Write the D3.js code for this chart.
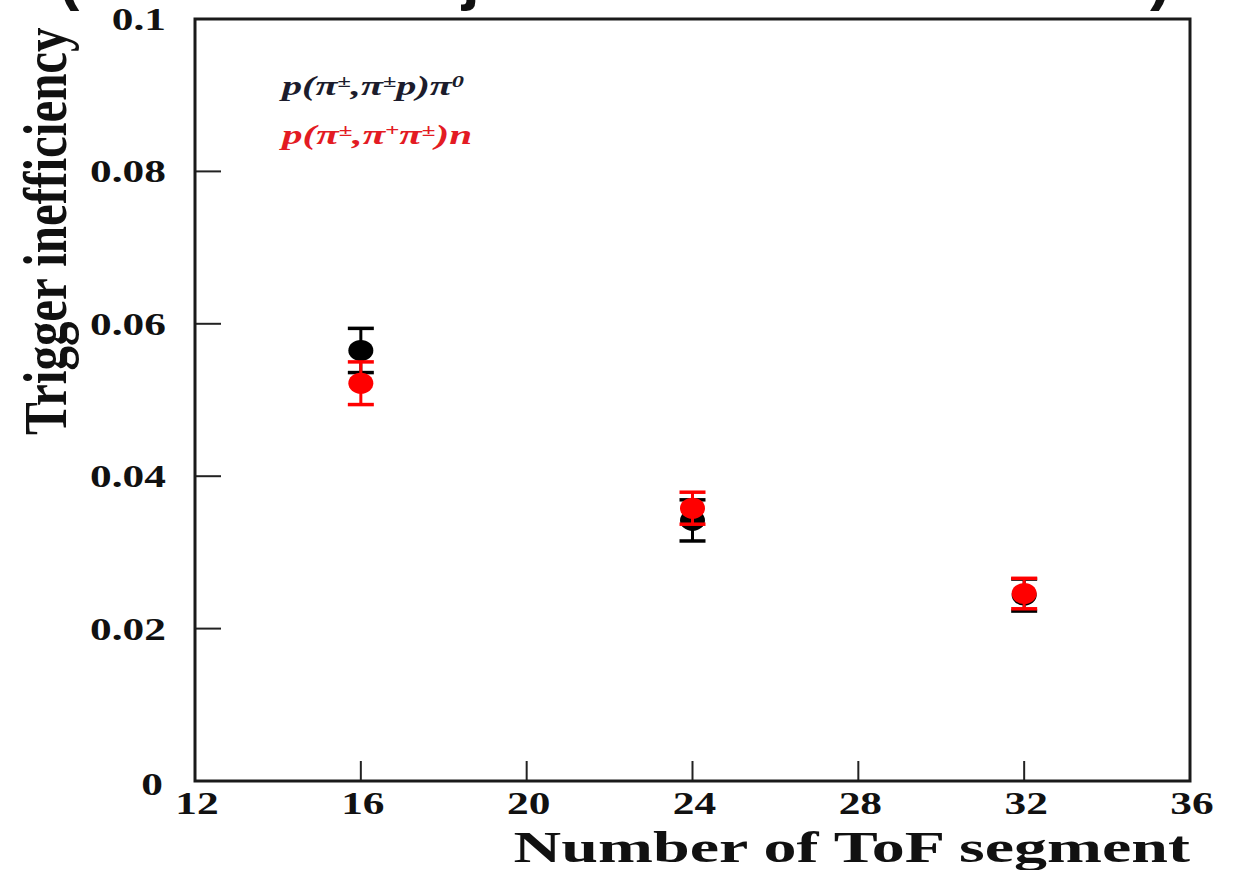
<!DOCTYPE html>
<html>
<head>
<meta charset="utf-8">
<script src="https://cdn.jsdelivr.net/npm/d3@7"></script>
<style>
  html, body { margin: 0; padding: 0; background: #fff; }
  svg { display: block; }
  text { font-family: "Liberation Serif", "Times New Roman", serif; }
</style>
</head>
<body>
<svg id="chart" width="1239" height="870"></svg>
<script>
// ---- data ----
const segments = [16, 24, 32];
const pipPi0Values = [0.0565, 0.0342, 0.0244];   // p(π±,π±p)π0 (black)
const pipPi0Errors = [0.0029, 0.0027, 0.0021];
const pipiNValues  = [0.0522, 0.0358, 0.0246];   // p(π±,π+π±)n (red)
const pipiNErrors  = [0.0028, 0.0021, 0.0020];
const xTicks = [12, 16, 20, 24, 28, 32, 36];
const yTicks = [0, 0.02, 0.04, 0.06, 0.08, 0.1];
const yTickLabels = ["0", "0.02", "0.04", "0.06", "0.08", "0.1"];
const xTitle = "Number of ToF segment";
const yTitle = "Trigger inefficiency";

const series = [
  { name: "pipPi0", values: pipPi0Values, errors: pipPi0Errors, color: "#000000" },
  { name: "pipiN",  values: pipiNValues,  errors: pipiNErrors,  color: "#ff0000" }
];

const svg = d3.select("#chart");
const mLeft = 195, mRight = 1190, mTop = 19, mBottom = 781;
const x = d3.scaleLinear().domain([12, 36]).range([mLeft, mRight]);
const y = d3.scaleLinear().domain([0, 0.1]).range([mBottom, mTop]);

// cut-off title fragments at very top (the reference shows only their lower tails)
const frag = svg.append("g").attr("font-weight", "bold").attr("font-size", 64).attr("fill", "#111");
[["(", 58], ["j", 462], [")", 1150]].forEach(([ch, px]) => {
  frag.append("text").attr("x", px).attr("y", -2)
    .style("font-family", "Liberation Sans, Arial, sans-serif").text(ch);
});

// inward ticks
const tickG = svg.append("g").attr("stroke", "#222").attr("stroke-width", 2);
xTicks.filter(d => d > 12 && d < 36).forEach(d => {
  tickG.append("line").attr("x1", x(d)).attr("x2", x(d)).attr("y1", mBottom).attr("y2", mBottom - 20);
});
yTicks.filter(d => d > 0 && d < 0.1).forEach(d => {
  tickG.append("line").attr("x1", mLeft).attr("x2", mLeft + 26).attr("y1", y(d)).attr("y2", y(d));
});

// frame
svg.append("rect").attr("x", mLeft).attr("y", mTop).attr("width", mRight - mLeft).attr("height", mBottom - mTop)
  .attr("fill", "none").attr("stroke", "#1a1a1a").attr("stroke-width", 3);

// tick labels
const lbl = svg.append("g").attr("font-weight", "bold").attr("font-size", 31).attr("fill", "#111");
yTicks.forEach((d, i) => {
  const isZero = d === 0;
  lbl.append("text")
    .attr("transform", `translate(${isZero ? 163 : 166},${y(d) + (isZero ? 14 : 11)}) scale(1.4,1)`)
    .attr("text-anchor", "end")
    .text(yTickLabels[i]);
});
xTicks.forEach(d => {
  lbl.append("text")
    .attr("transform", `translate(${x(d) + 2},${mBottom + 33}) scale(1.4,1)`)
    .attr("text-anchor", "middle")
    .text(d);
});

// axis titles
svg.append("text")
  .attr("transform", `translate(${mRight},${862}) scale(1.5,1)`)
  .attr("text-anchor", "end").attr("font-weight", "bold").attr("font-size", 44).attr("fill", "#111")
  .text(xTitle);
svg.append("text")
  .attr("transform", `translate(66,435) scale(1.23,1) rotate(-90)`)
  .attr("text-anchor", "start").attr("font-weight", "bold").attr("font-size", 49).attr("fill", "#111")
  .text(yTitle);

// data: error bars + markers
series.forEach(s => {
  const g = svg.append("g");
  segments.forEach((seg, i) => {
    const cx = x(seg), v = s.values[i], e = s.errors[i];
    g.append("line").attr("x1", cx).attr("x2", cx).attr("y1", y(v + e)).attr("y2", y(v - e))
      .attr("stroke", s.color).attr("stroke-width", 3);
    [v + e, v - e].forEach(c => {
      g.append("line").attr("x1", cx - 13).attr("x2", cx + 13).attr("y1", y(c)).attr("y2", y(c))
        .attr("stroke", s.color).attr("stroke-width", 3.5);
    });
    g.append("ellipse").attr("cx", cx).attr("cy", y(v)).attr("rx", 12.5).attr("ry", 10.5)
      .attr("fill", s.color);
  });
});

// legend
function legendText(yPos, color, parts, len) {
  const t = svg.append("text").attr("x", 282).attr("y", yPos)
    .attr("font-weight", "bold").attr("font-style", "italic").attr("font-size", 28)
    .attr("fill", color).attr("textLength", len).attr("lengthAdjust", "spacingAndGlyphs");
  parts.forEach(p => {
    const ts = t.append("tspan").text(p.t);
    if (p.sup) ts.attr("font-size", 17).attr("baseline-shift", "45%");
  });
}
legendText(95, "#1c1c2c", [
  { t: "p(π" }, { t: "±", sup: true }, { t: ",π" }, { t: "±", sup: true },
  { t: "p)π" }, { t: "0", sup: true }
], 182);
legendText(144, "#e31b23", [
  { t: "p(π" }, { t: "±", sup: true }, { t: ",π" }, { t: "+", sup: true },
  { t: "π" }, { t: "±", sup: true }, { t: ")n" }
], 190);
</script>
</body>
</html>
